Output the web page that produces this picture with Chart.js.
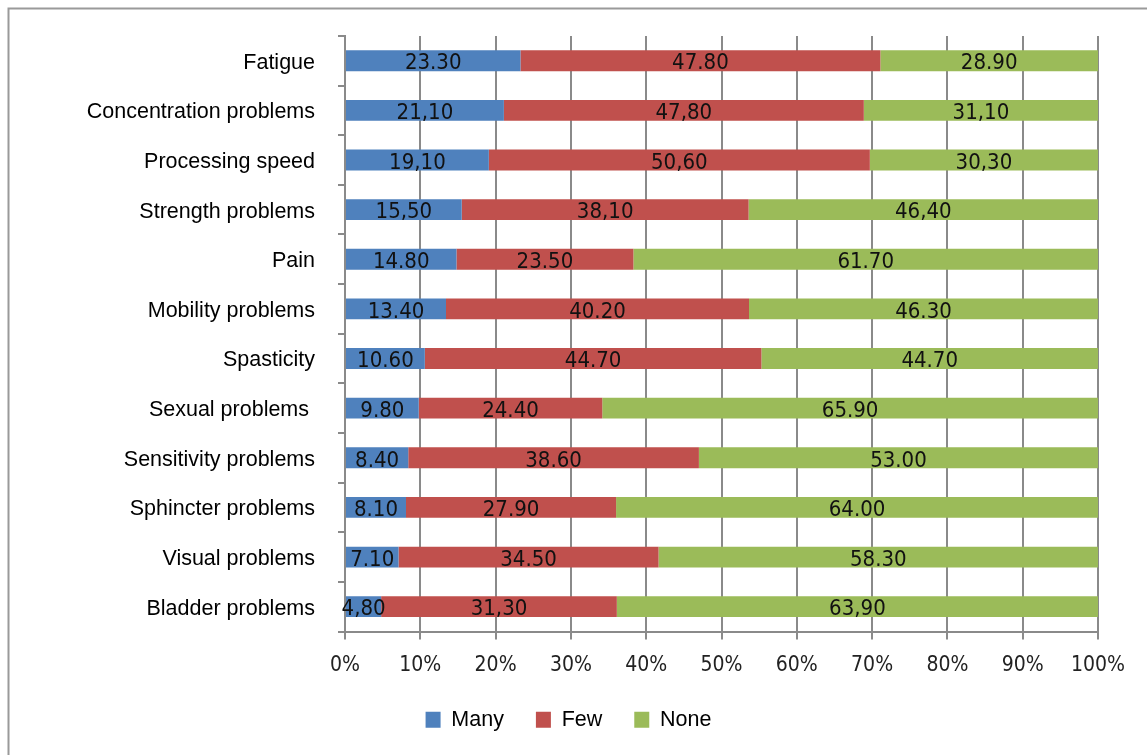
<!DOCTYPE html>
<html>
<head>
<meta charset="utf-8">
<script src="https://cdn.jsdelivr.net/npm/chart.js@4/dist/chart.umd.min.js"></script>
<style>
  html, body { margin: 0; padding: 0; background: #fff; }
  #wrap { width: 1147px; height: 755px; position: relative; }
</style>
</head>
<body>
<div id="wrap"><canvas id="c" width="1147" height="755"></canvas></div>
<script>
const categories = ['Fatigue', 'Concentration problems', 'Processing speed', 'Strength problems', 'Pain',
  'Mobility problems', 'Spasticity', 'Sexual problems ', 'Sensitivity problems', 'Sphincter problems',
  'Visual problems', 'Bladder problems'];
const many = [23.3, 21.1, 19.1, 15.5, 14.8, 13.4, 10.6, 9.8, 8.4, 8.1, 7.1, 4.8];
const few = [47.8, 47.8, 50.6, 38.1, 23.5, 40.2, 44.7, 24.4, 38.6, 27.9, 34.5, 31.3];
const none = [28.9, 31.1, 30.3, 46.4, 61.7, 46.3, 44.7, 65.9, 53.0, 64.0, 58.3, 63.9];
const decimalSep = ['.', ',', ',', ',', '.', '.', '.', '.', '.', '.', '.', ','];
const xTicks = [0, 10, 20, 30, 40, 50, 60, 70, 80, 90, 100];

const totals = categories.map((_, i) => many[i] + few[i] + none[i]);
const pct = arr => arr.map((v, i) => v / totals[i] * 100);
const rawValues = [many, few, none];

const frame = {
  id: 'frame',
  beforeDraw(chart) {
    const ctx = chart.ctx;
    ctx.save();
    ctx.fillStyle = '#fff';
    ctx.fillRect(0, 0, chart.width, chart.height);
    ctx.strokeStyle = '#9a9a9a';
    ctx.lineWidth = 2;
    ctx.strokeRect(8.5, 8.5, 1300, 900);
    ctx.restore();
  }
};

const valueLabels = {
  id: 'valueLabels',
  afterDatasetsDraw(chart) {
    const ctx = chart.ctx;
    ctx.save();
    ctx.font = '22px "DejaVu Sans Condensed", "DejaVu Sans"';
    ctx.fillStyle = '#111';
    ctx.textAlign = 'center';
    ctx.textBaseline = 'middle';
    chart.data.datasets.forEach((ds, di) => {
      const meta = chart.getDatasetMeta(di);
      meta.data.forEach((bar, j) => {
        const txt = rawValues[di][j].toFixed(2).replace('.', decimalSep[j]);
        ctx.fillText(txt, (bar.x + bar.base) / 2, bar.y + 3);
      });
    });
    ctx.restore();
  }
};

new Chart(document.getElementById('c'), {
  type: 'bar',
  data: {
    labels: categories,
    datasets: [
      { label: 'Many', data: pct(many), backgroundColor: '#4F81BD', borderWidth: 0 },
      { label: 'Few', data: pct(few), backgroundColor: '#C0504D', borderWidth: 0 },
      { label: 'None', data: pct(none), backgroundColor: '#9BBB59', borderWidth: 0 }
    ]
  },
  options: {
    indexAxis: 'y',
    responsive: false,
    animation: false,
    devicePixelRatio: 1,
    layout: { padding: { left: 0, right: 10, top: 35, bottom: 14.5 } },
    datasets: { bar: { categoryPercentage: 1, barPercentage: 0.42 } },
    scales: {
      x: {
        stacked: true,
        min: 0,
        max: 100,
        afterBuildTicks(scale) { scale.ticks = xTicks.map(v => ({ value: v })); },
        afterFit(scale) { scale.height = 45.5; scale.paddingRight = 49; },
        ticks: {
          callback: v => v + '%',
          font: { family: '"DejaVu Sans Condensed", "DejaVu Sans"', size: 21 },
          color: '#222',
          padding: 13,
          maxRotation: 0
        },
        grid: { color: '#8a8a8a', lineWidth: 2, tickLength: 8, drawTicks: true },
        border: { color: '#8a8a8a', width: 2 }
      },
      y: {
        stacked: true,
        afterFit(scale) { scale.width = 345; },
        ticks: {
          font: { family: 'Liberation Sans', size: 21.5 },
          color: '#000',
          padding: 23,
          labelOffset: 2
        },
        grid: { drawOnChartArea: false, offset: true, color: '#8a8a8a', lineWidth: 2, tickLength: 7 },
        border: { color: '#8a8a8a', width: 2 }
      }
    },
    plugins: {
      legend: {
        position: 'bottom',
        labels: {
          boxWidth: 15,
          boxHeight: 16,
          padding: 32,
          color: '#000',
          font: { family: 'Liberation Sans', size: 21.5 }
        }
      },
      tooltip: { enabled: false }
    }
  },
  plugins: [frame, valueLabels]
});
</script>
</body>
</html>
